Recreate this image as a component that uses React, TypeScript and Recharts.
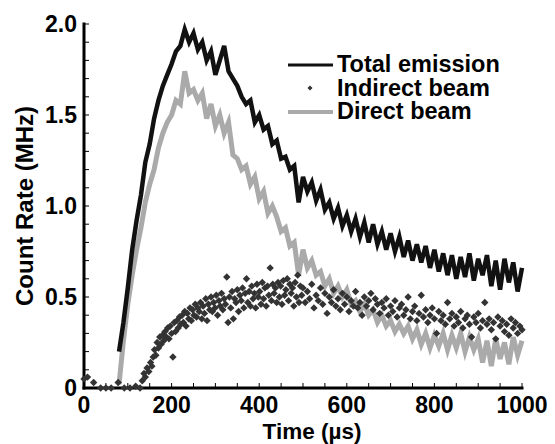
import { ComposedChart, Line, Scatter, XAxis, YAxis, Legend } from 'recharts';

const FONT = '"Liberation Sans", Arial, Helvetica, sans-serif';

// sample times (µs) for the two traces
const TIMES = [
  80, 90, 100, 110, 120, 130, 140, 150, 160, 170,
  180, 190, 200, 210, 220, 230, 240, 250, 260, 270,
  280, 290, 300, 310, 320, 330, 340, 350, 360, 370,
  380, 390, 400, 410, 420, 430, 440, 450, 460, 470,
  480, 490, 500, 510, 520, 530, 540, 550, 560, 570,
  580, 590, 600, 610, 620, 630, 640, 650, 660, 670,
  680, 690, 700, 710, 720, 730, 740, 750, 760, 770,
  780, 790, 800, 810, 820, 830, 840, 850, 860, 870,
  880, 890, 900, 910, 920, 930, 940, 950, 960, 970,
  980, 990, 1000,
];

const TOTAL_EMISSION = [
  0.2, 0.36, 0.55, 0.76, 0.92, 1.06, 1.24, 1.34, 1.48, 1.58,
  1.66, 1.72, 1.78, 1.85, 1.88, 1.97, 1.9, 1.95, 1.86, 1.9,
  1.8, 1.85, 1.72, 1.8, 1.88, 1.74, 1.7, 1.66, 1.6, 1.56,
  1.58, 1.46, 1.5, 1.42, 1.44, 1.34, 1.36, 1.26, 1.27, 1.2,
  1.22, 1.02, 1.16, 1.08, 1.13, 1.03, 1.09, 0.98, 1.02, 0.93,
  0.99, 0.89, 0.95, 0.86, 0.93, 0.83, 0.91, 0.8, 0.9, 0.79,
  0.86, 0.76, 0.85, 0.75, 0.83, 0.72, 0.81, 0.7, 0.79, 0.69,
  0.78, 0.66, 0.76, 0.64, 0.74, 0.62, 0.73, 0.6, 0.72, 0.61,
  0.74, 0.59, 0.71, 0.62, 0.73, 0.56, 0.7, 0.54, 0.71, 0.58,
  0.69, 0.53, 0.66,
];

const DIRECT_BEAM = [
  0.02, 0.26, 0.46, 0.62, 0.76, 0.88, 1.02, 1.12, 1.2, 1.32,
  1.4, 1.46, 1.5, 1.58, 1.56, 1.74, 1.62, 1.64, 1.58, 1.62,
  1.48, 1.56, 1.44, 1.5, 1.4, 1.46, 1.28, 1.26, 1.2, 1.22,
  1.12, 1.16, 1.04, 1.08, 0.96, 1.0, 0.94, 0.86, 0.88, 0.78,
  0.8, 0.62, 0.76, 0.66, 0.7, 0.62, 0.64, 0.56, 0.6, 0.52,
  0.56, 0.5, 0.54, 0.46, 0.48, 0.42, 0.46, 0.4, 0.43, 0.36,
  0.4, 0.34, 0.37, 0.31, 0.35, 0.3, 0.34, 0.27, 0.32, 0.24,
  0.3, 0.22, 0.29, 0.23, 0.3, 0.21, 0.29, 0.22, 0.3, 0.2,
  0.28, 0.21, 0.27, 0.14, 0.26, 0.12, 0.27, 0.16, 0.25, 0.13,
  0.28, 0.18, 0.26,
];

// [time µs, count rate MHz]
const INDIRECT_BEAM: [number, number][] = [
  [0, 0.05], [8, 0.06], [22, 0.03], [38, 0], [50, 0], [62, 0], [78, 0.03], [92, 0], [105, 0], [118, 0.01], [128, 0],
  [133, 0.04], [137, 0.08], [140, 0.06], [144, 0.11], [148, 0.09], [152, 0.14], [155, 0.12], [158, 0.17],
  [161, 0.21], [164, 0.18], [167, 0.25], [170, 0.22], [173, 0.28], [176, 0.24], [179, 0.29], [182, 0.26],
  [185, 0.31], [188, 0.28], [191, 0.33], [194, 0.27], [197, 0.34], [200, 0.3], [203, 0.17], [206, 0.36],
  [209, 0.31], [212, 0.37], [215, 0.33], [218, 0.39], [221, 0.35], [224, 0.4], [227, 0.36], [230, 0.42],
  [233, 0.34], [236, 0.41], [239, 0.38], [242, 0.44], [245, 0.37], [248, 0.43], [251, 0.4], [254, 0.46],
  [257, 0.39], [260, 0.44], [263, 0.42], [266, 0.47], [269, 0.38], [272, 0.45], [275, 0.41], [278, 0.49],
  [281, 0.37], [284, 0.46], [287, 0.43], [290, 0.5], [293, 0.42], [296, 0.47], [299, 0.44], [302, 0.51],
  [305, 0.4], [308, 0.48], [311, 0.45], [314, 0.52], [317, 0.43], [320, 0.49], [323, 0.46], [326, 0.61],
  [329, 0.36], [332, 0.5], [335, 0.44], [338, 0.53], [341, 0.38], [344, 0.49], [347, 0.47], [350, 0.54],
  [353, 0.42], [356, 0.51], [359, 0.48], [362, 0.55], [365, 0.44], [368, 0.52], [371, 0.6], [374, 0.47],
  [377, 0.53], [380, 0.45], [383, 0.56], [386, 0.49], [389, 0.52], [392, 0.44], [395, 0.57], [398, 0.5],
  [401, 0.53], [404, 0.46], [407, 0.58], [410, 0.49], [413, 0.55], [416, 0.45], [419, 0.56], [422, 0.51],
  [425, 0.66], [428, 0.48], [431, 0.57], [434, 0.52], [437, 0.55], [440, 0.47], [443, 0.58], [446, 0.5],
  [449, 0.56], [452, 0.46], [455, 0.59], [458, 0.51], [461, 0.54], [464, 0.6], [467, 0.48], [470, 0.57],
  [473, 0.52], [476, 0.55], [479, 0.45], [482, 0.58], [485, 0.5], [488, 0.62], [491, 0.47], [494, 0.56],
  [497, 0.51],
  [500, 0.55], [505, 0.47], [510, 0.53], [515, 0.49], [520, 0.57], [525, 0.44], [530, 0.51], [535, 0.48],
  [540, 0.55], [545, 0.46], [550, 0.52], [555, 0.41], [560, 0.5], [565, 0.47], [570, 0.54], [575, 0.45],
  [580, 0.49], [585, 0.43], [590, 0.52], [595, 0.46], [600, 0.5], [605, 0.42], [610, 0.48], [615, 0.45],
  [620, 0.53], [625, 0.44], [630, 0.47], [635, 0.4], [640, 0.5], [645, 0.45], [650, 0.48], [655, 0.52],
  [660, 0.43], [665, 0.49], [670, 0.46], [675, 0.41], [680, 0.47], [685, 0.44], [690, 0.49], [695, 0.4],
  [700, 0.45], [705, 0.42], [710, 0.48], [715, 0.39], [720, 0.44], [725, 0.46], [730, 0.4], [735, 0.43],
  [740, 0.5], [745, 0.38], [750, 0.42], [755, 0.45], [760, 0.37], [765, 0.41], [770, 0.51], [775, 0.39],
  [780, 0.43], [785, 0.36], [790, 0.4], [795, 0.44], [800, 0.38], [805, 0.3], [810, 0.42], [815, 0.37],
  [820, 0.4], [825, 0.35], [830, 0.47], [835, 0.38], [840, 0.41], [845, 0.34], [850, 0.39], [855, 0.36],
  [860, 0.42], [865, 0.33], [870, 0.38], [875, 0.4], [880, 0.35], [885, 0.28], [890, 0.39], [895, 0.36],
  [900, 0.41], [905, 0.33], [910, 0.37], [915, 0.47], [920, 0.35], [925, 0.38], [930, 0.32], [935, 0.36],
  [940, 0.27], [945, 0.39], [950, 0.34], [955, 0.37], [960, 0.31], [965, 0.35], [970, 0.29], [975, 0.38],
  [980, 0.33], [985, 0.36], [990, 0.3], [995, 0.34], [1000, 0.32],
];

const X_TICKS = [0, 50, 100, 150, 200, 250, 300, 350, 400, 450, 500, 550, 600, 650, 700, 750, 800, 850, 900, 950, 1000];
const X_LABELS = [0, 200, 400, 600, 800, 1000];
const Y_TICKS = [0, 0.1, 0.2, 0.3, 0.4, 0.5, 0.6, 0.7, 0.8, 0.9, 1, 1.1, 1.2, 1.3, 1.4, 1.5, 1.6, 1.7, 1.8, 1.9, 2];
const Y_LABELS = [0, 0.5, 1, 1.5, 2];

const lineData = TIMES.map((t, i) => ({ t, total: TOTAL_EMISSION[i], direct: DIRECT_BEAM[i] }));
const scatterData = INDIRECT_BEAM.map(([t, v]) => ({ t, v }));

const BLACK = '#111';
const GREY = '#aaa';
const DOT = '#333';

const tickStyle = { fill: '#000', fontSize: 23, fontWeight: 700, fontFamily: FONT };
const axisLine = { stroke: '#000', strokeWidth: 3, strokeLinecap: 'square' as const };
const tickLine = { stroke: '#000', strokeWidth: 1 };

function Diamond(props: any) {
  const { cx, cy } = props;
  const r = 3.7;
  return <path d={`M${cx},${cy - r}L${cx + r},${cy}L${cx},${cy + r}L${cx - r},${cy}Z`} fill={DOT} />;
}

function LegendBox() {
  const row = { display: 'flex', alignItems: 'center', height: 23.5 };
  const text = { fontFamily: FONT, fontWeight: 700, fontSize: 23.5, lineHeight: '23.5px', color: '#000', whiteSpace: 'nowrap' as const };
  return (
    <div>
      <div style={row}>
        <svg width={49} height={12}><line x1={0} y1={6} x2={45} y2={6} stroke={BLACK} strokeWidth={3} /></svg>
        <span style={text}>Total emission</span>
      </div>
      <div style={row}>
        <svg width={49} height={12}><path d="M22,3.5L24.5,6L22,8.5L19.5,6Z" fill={DOT} /></svg>
        <span style={text}>Indirect beam</span>
      </div>
      <div style={row}>
        <svg width={49} height={12}><line x1={0} y1={6} x2={45} y2={6} stroke={GREY} strokeWidth={4} /></svg>
        <span style={text}>Direct beam</span>
      </div>
    </div>
  );
}

export default function App() {
  return (
    <div style={{ position: 'absolute', left: 0, top: 0, background: '#fff' }}>
      <ComposedChart width={555} height={444} margin={{ top: 24, right: 33, bottom: 0, left: 0 }}>
        <XAxis
          dataKey="t"
          type="number"
          domain={[0, 1000]}
          ticks={X_TICKS}
          tickFormatter={(v: number) => (X_LABELS.includes(v) ? String(v) : '')}
          interval={0}
          height={56}
          tickSize={-5}
          tickMargin={14}
          tick={tickStyle}
          tickLine={tickLine}
          axisLine={axisLine}
          label={{
            value: 'Time (µs)',
            position: 'insideBottom',
            offset: 5,
            dx: 9,
            style: { fill: '#000', fontSize: 22.5, fontWeight: 700, fontFamily: FONT },
          }}
        />
        <XAxis
          xAxisId="top"
          orientation="top"
          type="number"
          domain={[0, 1000]}
          ticks={X_TICKS}
          tickFormatter={() => ''}
          interval={0}
          height={0}
          tickSize={-5}
          tickLine={tickLine}
          axisLine={axisLine}
        />
        <YAxis
          type="number"
          domain={[0, 2]}
          ticks={Y_TICKS}
          tickFormatter={(v: number) => (Y_LABELS.includes(v) ? (v === 0 ? '0' : v.toFixed(1)) : '')}
          interval={0}
          width={84}
          tickSize={-5}
          tickMargin={12}
          tick={tickStyle}
          tickLine={tickLine}
          axisLine={axisLine}
          label={{
            value: 'Count Rate (MHz)',
            angle: -90,
            position: 'insideLeft',
            offset: 24,
            style: { textAnchor: 'middle', fill: '#000', fontSize: 24, fontWeight: 700, fontFamily: FONT },
          }}
        />
        <YAxis
          yAxisId="right"
          orientation="right"
          type="number"
          domain={[0, 2]}
          ticks={Y_TICKS}
          tickFormatter={() => ''}
          interval={0}
          width={0}
          tickSize={-5}
          tickLine={tickLine}
          axisLine={axisLine}
        />
        <Line
          data={lineData}
          dataKey="direct"
          type="linear"
          stroke={GREY}
          strokeWidth={5}
          dot={false}
          isAnimationActive={false}
        />
        <Line
          data={lineData}
          dataKey="total"
          type="linear"
          stroke={BLACK}
          strokeWidth={4.5}
          dot={false}
          isAnimationActive={false}
        />
        <Scatter data={scatterData} dataKey="v" shape={Diamond} isAnimationActive={false} />
        <Legend
          layout="vertical"
          align="center"
          verticalAlign="middle"
          wrapperStyle={{ left: 288, top: 53, width: 'auto', height: 'auto' }}
          content={() => <LegendBox />}
        />
      </ComposedChart>
    </div>
  );
}
